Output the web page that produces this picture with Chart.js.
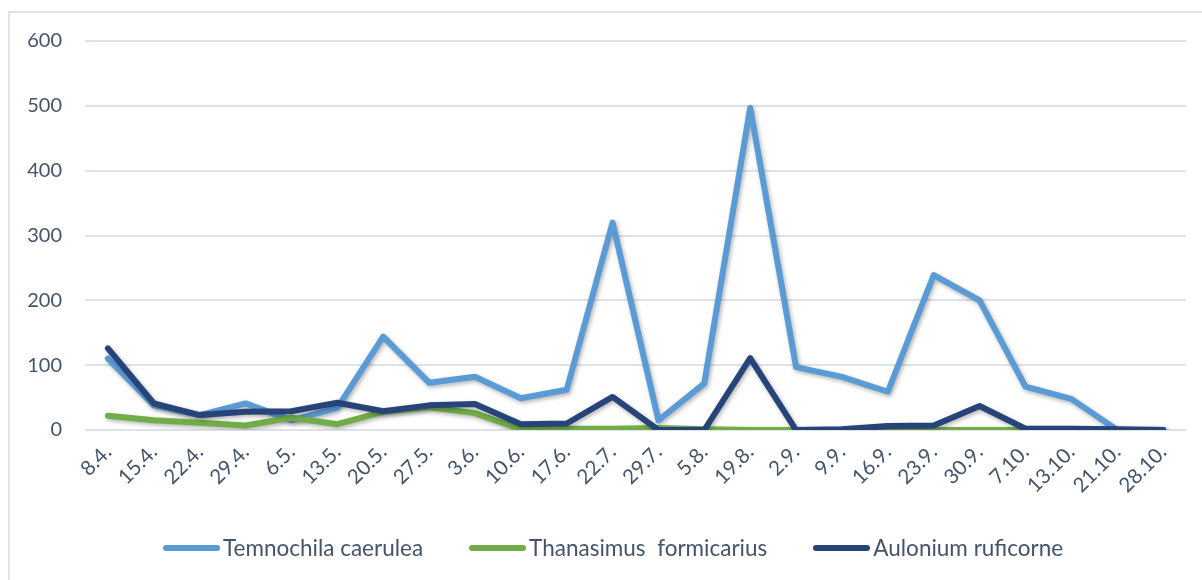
<!DOCTYPE html>
<html>
<head>
<meta charset="utf-8">
<script src="https://cdn.jsdelivr.net/npm/chart.js@4.4.1/dist/chart.umd.min.js"></script>
<style>
    body { margin: 0; background: #ffffff; font-family: Lato, sans-serif; }
    #wrap { position: relative; width: 1202px; height: 580px; overflow: hidden; }
    #frame {
        position: absolute; left: 8px; top: 11px; width: 1300px; height: 700px;
        border-left: 2px solid #dfe3e8; border-top: 2px solid #dfe3e8;
    }
    #chart { position: absolute; left: 0; top: 0; }
    #legend {
        position: absolute; left: 163px; top: 534px; display: flex; align-items: center;
        gap: 46px; color: #44546a; font-size: 22.5px; white-space: pre;
    }
    .item { display: flex; align-items: center; }
    .swatch { width: 57px; height: 6px; border-radius: 3px; margin-right: 3px; }
</style>
</head>
<body>
<div id="wrap">
    <div id="frame"></div>
    <canvas id="chart" width="1202" height="580"></canvas>
    <div id="legend"></div>
</div>
<script>
// Dátumy odberov
const labels = ['8.4.', '15.4.', '22.4.', '29.4.', '6.5.', '13.5.', '20.5.', '27.5.', '3.6.', '10.6.', '17.6.', '22.7.',
    '29.7.', '5.8.', '19.8.', '2.9.', '9.9.', '16.9.', '23.9.', '30.9.', '7.10.', '13.10.', '21.10.', '28.10.'];

// Počty jedincov
const temnochila = [110, 38, 23, 41, 15, 34, 144, 73, 82, 49, 62, 320, 15, 72, 497, 97, 82, 59, 239, 200, 67, 48, 0, 0];
const thanasimus = [22, 15, 11, 7, 19, 9, 28, 35, 26, 1, 2, 2, 3, 1, 0, 0, 0, 0, 0, 0, 0, 0, 0, 0];
const aulonium = [126, 41, 23, 28, 29, 42, 29, 38, 40, 9, 10, 51, 0, 0, 111, 0, 1, 6, 7, 37, 2, 2, 1, 0];

const yTicks = [0, 100, 200, 300, 400, 500, 600];

const seriesNames = ['Temnochila caerulea', 'Thanasimus  formicarius', 'Aulonium ruficorne'];
const seriesColors = ['#5b9bd5', '#70ad47', '#264478'];

const textColor = '#44546a';
const gridColor = '#dfe3e8';

// Tieň pod čiarami ako v Exceli
const shadowPlugin = {
    id: 'lineShadow',
    beforeDatasetDraw(chart) {
        const ctx = chart.ctx;
        ctx.save();
        ctx.shadowColor = 'rgba(0, 0, 0, 0.3)';
        ctx.shadowBlur = 4;
        ctx.shadowOffsetX = 1.5;
        ctx.shadowOffsetY = 2;
    },
    afterDatasetDraw(chart) {
        chart.ctx.restore();
    }
};

function makeDataset(i, data) {
    return {
        label: seriesNames[i],
        data: data,
        borderColor: seriesColors[i],
        backgroundColor: seriesColors[i],
        borderWidth: 6,
        borderJoinStyle: 'round',
        borderCapStyle: 'round',
        pointRadius: 0,
        tension: 0,
        fill: false,
        order: 3 - i
    };
}

const chart = new Chart(document.getElementById('chart'), {
    type: 'line',
    data: {
        labels: labels,
        datasets: [
            makeDataset(0, temnochila),
            makeDataset(1, thanasimus),
            makeDataset(2, aulonium)
        ]
    },
    options: {
        responsive: false,
        animation: false,
        layout: { padding: { top: 41, right: 16, bottom: 0, left: 0 } },
        plugins: {
            legend: { display: false },
            tooltip: { enabled: false }
        },
        scales: {
            x: {
                offset: true,
                grid: { display: false, drawTicks: false },
                border: { display: false },
                ticks: {
                    color: textColor,
                    font: { family: 'Lato', size: 20.5 },
                    maxRotation: 45,
                    minRotation: 45,
                    autoSkip: false,
                    padding: 10
                },
                afterFit(scale) { scale.height = 150; }
            },
            y: {
                min: 0,
                max: 600,
                afterBuildTicks(scale) {
                    scale.ticks = yTicks.map(v => ({ value: v }));
                },
                grid: { color: gridColor, lineWidth: 2, drawTicks: false },
                border: { display: false },
                ticks: {
                    color: textColor,
                    font: { family: 'Lato', size: 20 },
                    padding: 23
                },
                afterFit(scale) { scale.width = 85; }
            }
        }
    },
    plugins: [shadowPlugin]
});

// Legenda
const legend = document.getElementById('legend');
seriesNames.forEach(function(name, i) {
    const item = document.createElement('div');
    item.className = 'item';
    const sw = document.createElement('span');
    sw.className = 'swatch';
    sw.style.background = seriesColors[i];
    const txt = document.createElement('span');
    txt.textContent = name;
    item.appendChild(sw);
    item.appendChild(txt);
    legend.appendChild(item);
});
</script>
</body>
</html>
